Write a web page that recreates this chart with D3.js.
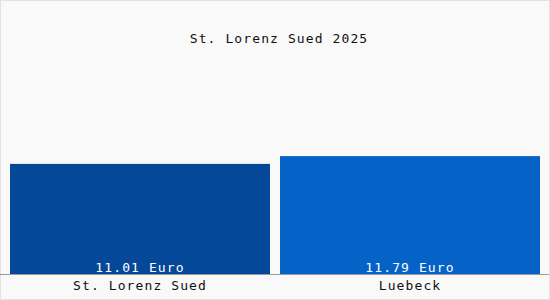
<script src="https://d3js.org/d3.v7.min.js"></script>

<svg id="vis"></svg>

<script>

  // Data
  var titleText = 'St. Lorenz Sued 2025'
  var categories = ['St. Lorenz Sued', 'Luebeck']
  var values = [11.01, 11.79]
  var valueLabels = ['11.01 Euro', '11.79 Euro']
  var barColors = ['#05489a', '#0562c6']

  // Set variables
  var width = 550
  var height = 300
  var baseY = 274
  var fontFamily = "'DejaVu Sans Mono', monospace"

  var svg = d3.select('#vis')
    .attr('width', width)
    .attr('height', height)
    .style('display', 'block')

  // Background and faint frame
  svg.append('rect')
    .attr('x', 0.5)
    .attr('y', 0.5)
    .attr('width', width - 1)
    .attr('height', height - 1)
    .attr('fill', '#f9f9f9')
    .attr('stroke', '#e2e2e2')

  // Scales
  var x = d3.scaleBand()
    .domain(categories)
    .range([10, 540])
    .paddingInner(10 / 270)

  var y = d3.scaleLinear()
    .domain([0, 20])
    .range([baseY, baseY - 200])

  // Bars
  svg.selectAll('rect.bar')
    .data(values)
    .enter()
    .append('rect')
    .attr('class', 'bar')
    .attr('x', function(d, i) { return x(categories[i]) })
    .attr('y', function(d) { return y(d) })
    .attr('width', x.bandwidth())
    .attr('height', function(d) { return y(0) - y(d) })
    .attr('fill', function(d, i) { return barColors[i] })

  // Value labels inside bars
  svg.selectAll('text.value')
    .data(valueLabels)
    .enter()
    .append('text')
    .attr('class', 'value')
    .text(function(d) { return d })
    .attr('x', function(d, i) { return x(categories[i]) + x.bandwidth() / 2 })
    .attr('y', y(0) - 2)
    .attr('text-anchor', 'middle')
    .style('font-family', fontFamily)
    .style('font-size', '13px')
    .style('letter-spacing', '1.1px')
    .style('fill', 'white')

  // Baseline axis
  var xAxis = d3.axisBottom(x).tickSize(0).tickPadding(7)
  var axisG = svg.append('g')
    .attr('transform', 'translate(0,' + baseY + ')')
    .call(xAxis)

  axisG.select('.domain')
    .attr('d', 'M0,0.5H' + (width - 1))
    .attr('stroke', '#9a9a9a')

  axisG.selectAll('text')
    .style('font-family', fontFamily)
    .style('font-size', '13px')
    .style('letter-spacing', '1.1px')
    .style('fill', '#111')

  // Title
  svg.append('text')
    .text(titleText)
    .attr('x', width / 2 + 4)
    .attr('y', 43)
    .attr('text-anchor', 'middle')
    .style('font-family', fontFamily)
    .style('font-size', '13px')
    .style('letter-spacing', '1.1px')
    .style('fill', '#111')

</script>

<body style="margin: 0;"></body>
